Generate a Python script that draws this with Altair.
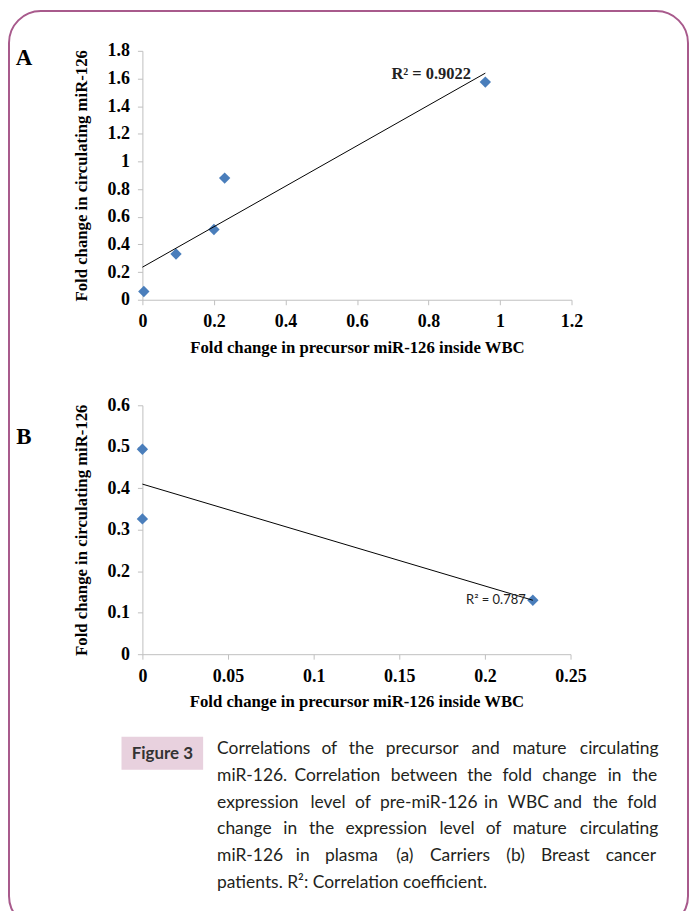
import altair as alt
import pandas as pd

# ---------------- data ----------------
# Panel A (carriers)
a_x = [0.004, 0.094, 0.200, 0.230, 0.959]
a_y = [0.060, 0.331, 0.508, 0.880, 1.574]
# Panel B (breast cancer patients)
b_x = [0.0, 0.0, 0.228]
b_y = [0.494, 0.326, 0.130]

a_xticks = [0, 0.2, 0.4, 0.6, 0.8, 1, 1.2]
a_yticks = [0, 0.2, 0.4, 0.6, 0.8, 1, 1.2, 1.4, 1.6, 1.8]
b_xticks = [0, 0.05, 0.1, 0.15, 0.2, 0.25]
b_yticks = [0, 0.1, 0.2, 0.3, 0.4, 0.5, 0.6]

x_title = "Fold change in precursor miR-126 inside WBC"
y_title = "Fold change in circulating miR-126"
r2_a = "R\u00b2 = 0.9022"
r2_b = "R\u00b2 = 0.787"
panel_labels = ["A", "B"]
fig_label = "Figure 3"
caption_lines = [
    "Correlations of the precursor and mature circulating",
    "miR-126. Correlation between the fold change in the",
    "expression level of pre-miR-126 in WBC and the fold",
    "change in the expression level of mature circulating",
    "miR-126 in plasma (a) Carriers (b) Breast cancer",
    "patients. R\u00b2: Correlation coefficient.",
]

SERIF = "Liberation Serif"
SANS = "Lato"
BLUE = "#4a7ebb"
AXGRAY = "#bfbfbf"
BORDER = "#a85a8c"

GAP = 106            # vertical gap between plot areas
CAP_TOP = 655 + GAP  # page y of caption chart origin
ORIGIN_X = 143       # page x of plot areas' left edge


def axis(values, title, tpad):
    return alt.Axis(
        values=values, format="~g", title=title, grid=False,
        domainColor=AXGRAY, tickColor=AXGRAY, tickSize=5,
        labelFont=SERIF, labelFontSize=18, labelFontWeight="bold", labelColor="black",
        labelPadding=8, labelOverlap=False, labelFlush=False,
        titleFont=SERIF, titleFontSize=16.8, titleFontWeight="bold", titleColor="black",
        titlePadding=tpad,
    )


def panel(xs, ys, xdom, ydom, xt, yt, w, r2, r2x, r2y, r2font, r2size, r2weight, plab, plab_y):
    df = pd.DataFrame({"x": xs, "y": ys})
    base = alt.Chart(df)
    xenc = alt.X("x:Q", scale=alt.Scale(domain=xdom, nice=False, zero=True), axis=axis(xt, x_title, 9))
    yenc = alt.Y("y:Q", scale=alt.Scale(domain=ydom, nice=False, zero=True), axis=axis(yt, y_title, 17))
    trend = base.transform_regression("x", "y", extent=[0, max(xs)]).mark_line(
        color="black", strokeWidth=1
    ).encode(x=xenc, y=yenc)
    pts = base.mark_point(shape="diamond", filled=True, size=130, color=BLUE, opacity=1).encode(
        x=xenc, y=yenc
    )
    lab = alt.Chart(pd.DataFrame({"t": [r2]})).mark_text(
        font=r2font, fontSize=r2size, fontWeight=r2weight, color="#222", align="center", baseline="middle"
    ).encode(text="t:N", x=alt.value(r2x), y=alt.value(r2y))
    pl = alt.Chart(pd.DataFrame({"t": [plab]})).mark_text(
        font=SERIF, fontSize=23, fontWeight="bold", color="black", align="center", baseline="middle"
    ).encode(text="t:N", x=alt.value(-119), y=alt.value(plab_y))
    return alt.layer(pts, trend, lab, pl).properties(width=w, height=250)


chart_a = panel(a_x, a_y, [0, 1.2], [0, 1.8], a_xticks, a_yticks, 431,
                r2_a, 290, 23, SERIF, 16.5, "bold", panel_labels[0], 7)
chart_b = panel(b_x, b_y, [0, 0.25], [0, 0.6], b_xticks, b_yticks, 430,
                r2_b, 355, 196, SANS, 13, "normal", panel_labels[1], 32)

# ---------------- caption, justified word by word ----------------
CAP_FONT = 17.5
CAP_LEFT, CAP_RIGHT = 218, 660
# relative glyph advance widths (humanist sans proportions)
GW = {'a': 1139, 'b': 1255, 'c': 975, 'd': 1255, 'e': 1149, 'f': 694, 'g': 1122, 'h': 1257,
      'i': 518, 'j': 518, 'k': 1075, 'l': 518, 'm': 1905, 'n': 1257, 'o': 1237, 'p': 1255,
      'q': 1255, 'r': 836, 's': 977, 't': 723, 'u': 1257, 'v': 1026, 'w': 1593, 'x': 1073,
      'y': 1028, 'z': 977, ' ': 532, '.': 545, '-': 659, '(': 596, ')': 596, ':': 545,
      'C': 1290, 'R': 1255, 'W': 1942, 'B': 1300, '1': 1171, '2': 1171, '6': 1171, '\u00b2': 700}
# rendered natural widths of the justified lines at 17px in Lato (measured)
natural_px_17 = [382, 389, 389, 377, 358]

rows = []
for i, line in enumerate(caption_lines):
    words = line.split(" ")
    if i >= len(natural_px_17):
        rows.append({"i": i, "w": line, "px": CAP_LEFT - ORIGIN_X})
        continue
    ww = [sum(GW.get(c, 1100) for c in w) for w in words]
    nat_units = sum(ww) + (len(words) - 1) * GW[' ']
    f = natural_px_17[i] * CAP_FONT / 17.0 / nat_units
    wpx = [u * f for u in ww]
    gap = (CAP_RIGHT - CAP_LEFT - sum(wpx)) / (len(words) - 1)
    x = CAP_LEFT
    for w, p in zip(words, wpx):
        rows.append({"i": i, "w": w, "px": x - ORIGIN_X})
        x += p + gap
cap_df = pd.DataFrame(rows)

cap_text = alt.Chart(cap_df).mark_text(
    font=SANS, fontSize=CAP_FONT, color="#231f20", align="left", baseline="middle"
).encode(
    text="w:N",
    x=alt.X("px:Q", scale=alt.Scale(domain=[0, 430], range=[0, 430]), axis=None),
    y=alt.Y("i:Q", scale=alt.Scale(domain=[0, 5], range=[750 - CAP_TOP, 885 - CAP_TOP]), axis=None),
)
one = pd.DataFrame({"t": [fig_label]})
fig_box = alt.Chart(one).mark_rect(fill="#e8d1de").encode(
    x=alt.value(-21), x2=alt.value(61), y=alt.value(738 - CAP_TOP), y2=alt.value(771 - CAP_TOP)
)
fig_txt = alt.Chart(one).mark_text(
    font=SANS, fontSize=17, fontWeight="bold", color="#333333", align="center", baseline="middle"
).encode(text="t:N", x=alt.value(20), y=alt.value(755 - CAP_TOP))
border = alt.Chart(one).mark_rect(
    fill="white", fillOpacity=0, stroke=BORDER, strokeWidth=2, cornerRadius=32
).encode(x=alt.value(-134), x2=alt.value(548), y=alt.value(9 - CAP_TOP), y2=alt.value(930 - CAP_TOP))
caption = alt.layer(border, fig_box, fig_txt, cap_text).properties(width=430, height=130)

chart = alt.vconcat(chart_a, chart_b, caption, spacing=GAP, bounds="flush").properties(
    padding=0
).configure_view(stroke=None)

chart.save("out.html", embed_options={"renderer": "svg", "actions": False})
